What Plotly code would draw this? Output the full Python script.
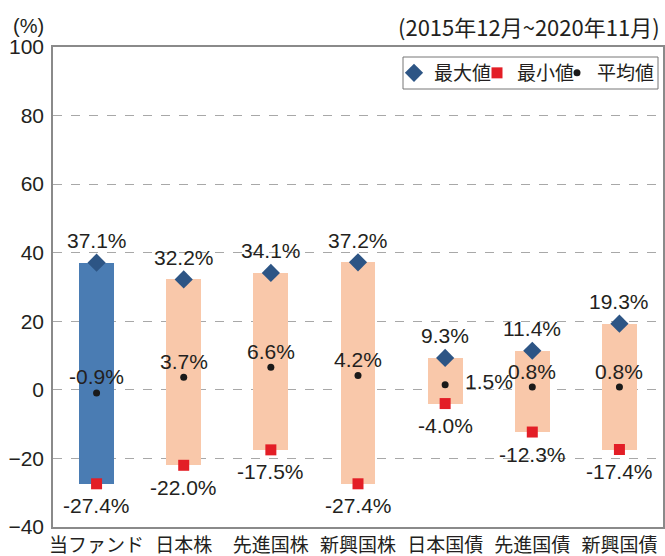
import plotly.graph_objects as go

categories = ["当ファンド", "日本株", "先進国株", "新興国株", "日本国債", "先進国債", "新興国債"]
max_vals = [37.1, 32.2, 34.1, 37.2, 9.3, 11.4, 19.3]
min_vals = [-27.4, -22.0, -17.5, -27.4, -4.0, -12.3, -17.4]
mean_vals = [-0.9, 3.7, 6.6, 4.2, 1.5, 0.8, 0.8]
y_ticks = [-40, -20, 0, 20, 40, 60, 80, 100]

FONT_NUM = "Liberation Sans, Arial, sans-serif"
FONT_NARROW = "Liberation Sans Narrow, Arial Narrow, Liberation Sans, sans-serif"
FONT_JP = "Noto Sans CJK JP, sans-serif"
TXT = "#231f20"
AX = "#8a8a8a"

W, H = 665, 556
ML, MR, MT, MB = 53, 2, 47, 29
PW, PH = W - ML - MR, H - MT - MB


def px_x(p):
    return (p - ML) / PW


def px_y(p):
    return (H - MB - p) / PH


bar_colors = ["#4a7cb3"] + ["#f9c8aa"] * (len(categories) - 1)
xs = list(range(len(categories)))

fig = go.Figure()
fig.add_trace(go.Bar(
    x=xs, y=[mx - mn for mx, mn in zip(max_vals, min_vals)], base=min_vals,
    width=0.4, marker=dict(color=bar_colors, line=dict(width=0)),
    showlegend=False, hoverinfo="skip"))
fig.add_trace(go.Scatter(x=xs, y=max_vals, mode="markers", name="最大値", legend="legend",
                         marker=dict(symbol="diamond", size=14, color="#2d5585")))
fig.add_trace(go.Scatter(x=xs, y=min_vals, mode="markers", name="最小値", legend="legend2",
                         marker=dict(symbol="square", size=11, color="#e31e26")))
fig.add_trace(go.Scatter(x=xs, y=mean_vals, mode="markers", name="平均値", legend="legend3",
                         marker=dict(symbol="circle", size=7, color="#1a1a1a")))

ann = []
lab_font = dict(family=FONT_NUM, size=21, color=TXT)
mean_side = ["top", "top", "top", "top", "right", "top", "top"]
for i in xs:
    ann.append(dict(x=i, y=max_vals[i], text=f"{max_vals[i]:.1f}%", showarrow=False,
                    yshift=22, font=lab_font, xref="x", yref="y"))
    ann.append(dict(x=i, y=min_vals[i], text=f"{min_vals[i]:.1f}%", showarrow=False,
                    yshift=-22, font=lab_font, xref="x", yref="y"))
    if mean_side[i] == "right":
        ann.append(dict(x=i, y=mean_vals[i], text=f"{mean_vals[i]:.1f}%", showarrow=False,
                        xshift=44, yshift=3, font=lab_font, xref="x", yref="y"))
    else:
        ann.append(dict(x=i, y=mean_vals[i], text=f"{mean_vals[i]:.1f}%", showarrow=False,
                        yshift=16, font=lab_font, xref="x", yref="y"))

ann.append(dict(x=px_x(28), y=px_y(26), xref="paper", yref="paper", text="(%)",
                xanchor="center", yanchor="middle",
                showarrow=False, font=dict(family=FONT_NARROW, size=20, color=TXT)))
ann.append(dict(x=px_x(662), y=px_y(26), xref="paper", yref="paper",
                text="(2015年12月~2020年11月)",
                xanchor="right", yanchor="middle",
                showarrow=False, font=dict(family=FONT_JP, size=22, color=TXT)))

leg_common = dict(orientation="h", xanchor="left", yanchor="middle", y=px_y(73),
                  borderwidth=0, bgcolor="rgba(0,0,0,0)",
                  font=dict(family=FONT_JP, size=19, color=TXT), itemwidth=30)

fig.update_layout(
    width=W, height=H,
    margin=dict(l=ML, r=MR, t=MT, b=MB, autoexpand=False),
    plot_bgcolor="white", paper_bgcolor="white",
    bargap=0,
    annotations=ann,
    showlegend=True,
    legend=dict(x=px_x(431 - 37), **leg_common),
    legend2=dict(x=px_x(515 - 38), **leg_common),
    legend3=dict(x=px_x(595 - 38), **leg_common),
    shapes=[dict(type="rect", xref="paper", yref="paper",
                 x0=px_x(403), x1=px_x(658), y0=px_y(89), y1=px_y(57),
                 line=dict(color="#777777", width=1), fillcolor="white", layer="below")],
    xaxis=dict(range=[-0.5, 6.5], tickmode="array", tickvals=xs, ticktext=categories,
               ticks="", showline=True, mirror=True, linecolor=AX, linewidth=1.5,
               showgrid=False, zeroline=False, ticklabelstandoff=0, automargin=False,
               tickfont=dict(family=FONT_JP, size=19, color=TXT)),
    xaxis2=dict(range=[-0.5, 6.5], overlaying="x", anchor="free", position=40/140,
                side="bottom", showline=True, linecolor=AX, linewidth=1.5,
                tickmode="array", tickvals=[0.5, 1.5, 2.5, 3.5, 4.5, 5.5],
                ticks="outside", ticklen=7, tickcolor=AX, tickwidth=1.5, automargin=False,
                showticklabels=False, showgrid=False, zeroline=False),
    yaxis=dict(range=[-40, 100], tickmode="array", tickvals=y_ticks,
               showline=True, mirror=True, linecolor=AX, linewidth=1.5,
               showgrid=True, gridcolor="#a8a8a8", griddash="dash", gridwidth=1,
               zeroline=False, ticks="", ticklabelstandoff=3, automargin=False,
               tickfont=dict(family=FONT_NARROW, size=21, color=TXT)),
)
fig.write_html("out.html", config={"displayModeBar": False},
               post_script="document.body.style.margin='0px';")
